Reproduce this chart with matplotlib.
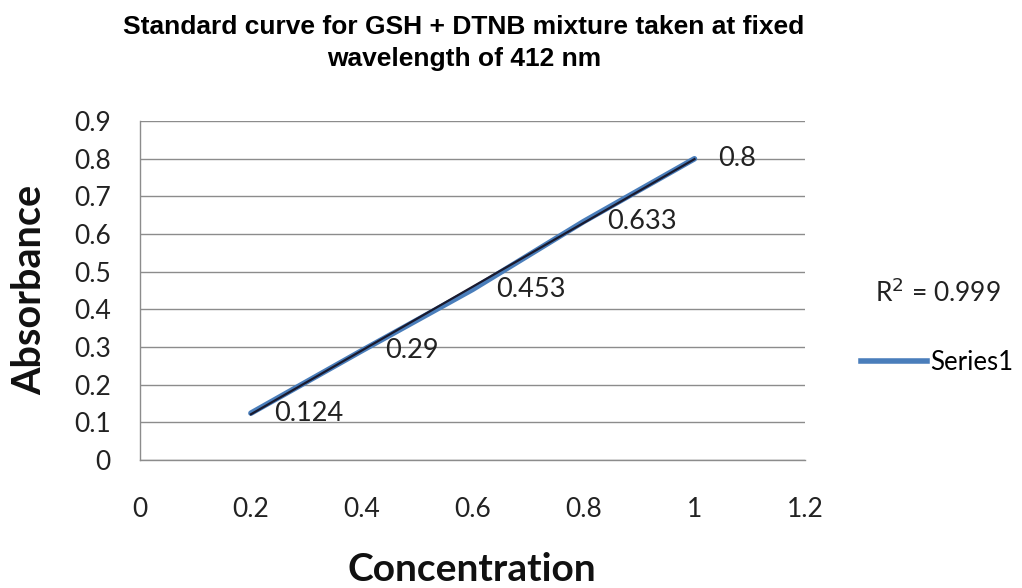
import numpy as np
import matplotlib
matplotlib.use('Agg')
import matplotlib.pyplot as plt
from matplotlib.lines import Line2D

# данные стандартной кривой
concentration = [0.2, 0.4, 0.6, 0.8, 1.0]
absorbance = [0.124, 0.29, 0.453, 0.633, 0.8]
point_labels = ['0.124', '0.29', '0.453', '0.633', '0.8']
x_ticks = [0, 0.2, 0.4, 0.6, 0.8, 1, 1.2]
x_tick_labels = ['0', '0.2', '0.4', '0.6', '0.8', '1', '1.2']
y_ticks = [0, 0.1, 0.2, 0.3, 0.4, 0.5, 0.6, 0.7, 0.8, 0.9]
y_tick_labels = ['0', '0.1', '0.2', '0.3', '0.4', '0.5', '0.6', '0.7', '0.8', '0.9']
r2_text = 'R$^2$ = 0.999'

fig = plt.figure(figsize=(10.22, 5.88), dpi=100)
ax = fig.add_axes([0.137, 0.218, 0.651, 0.576])

grid_color = '#8c8c8c'
txt_color = '#222222'
ax.set_xlim(0, 1.2)
ax.set_ylim(0, 0.9)
ax.set_yticks(y_ticks)
ax.set_yticklabels(y_tick_labels)
ax.set_xticks(x_ticks)
ax.set_xticklabels(x_tick_labels)
ax.yaxis.grid(True, color=grid_color, linewidth=1)
ax.set_axisbelow(True)
for side in ['top', 'right']:
    ax.spines[side].set_visible(False)
for side in ['left', 'bottom']:
    ax.spines[side].set_color(grid_color)
    ax.spines[side].set_linewidth(1)
ax.tick_params(axis='x', length=0, pad=27, labelsize=19, colors=txt_color)
ax.tick_params(axis='y', length=0, pad=21, labelsize=19, colors=txt_color)
for lbl in ax.get_xticklabels() + ax.get_yticklabels():
    lbl.set_family('Lato')

# основная серия
ax.plot(concentration, absorbance, color='#4A7EBB', linewidth=4,
        solid_capstyle='round')

# линейный тренд
coef = np.polyfit(concentration, absorbance, 1)
xs = np.array([concentration[0], concentration[-1]])
ax.plot(xs, np.polyval(coef, xs), color='#1a1a2e', linewidth=1.6)

for x, y, t in zip(concentration, absorbance, point_labels):
    ax.annotate(t, xy=(x, y), xytext=(17, 0), textcoords='offset points',
                ha='left', va='center', fontsize=19.5, family='Lato',
                color=txt_color)

fig.text(0.462, 0.032, 'Concentration', fontsize=28, fontweight='bold',
         family='Lato', ha='center', va='center', color='#111111')
fig.text(0.029, 0.507, 'Absorbance', fontsize=28.5, fontweight='bold',
         family='Lato', ha='center', va='center', rotation=90, color='#111111')

fig.suptitle('Standard curve for GSH + DTNB mixture taken at fixed\nwavelength of 412 nm',
             x=0.454, y=0.975, fontsize=19, fontweight='bold',
             family='Liberation Sans', linespacing=1.45)

fig.text(0.856, 0.502, r2_text, fontsize=19, family='Lato', va='center',
         color=txt_color)
handles = [Line2D([0], [0], color='#4A7EBB', linewidth=4)]
fig.legend(handles, ['Series1'], loc='center left',
           bbox_to_anchor=(0.842, 0.384), frameon=False, handlelength=2.6,
           handletextpad=0.1, borderpad=0, borderaxespad=0,
           prop={'family': 'Lato', 'size': 18.5})

fig.savefig('out.png', dpi=100)
